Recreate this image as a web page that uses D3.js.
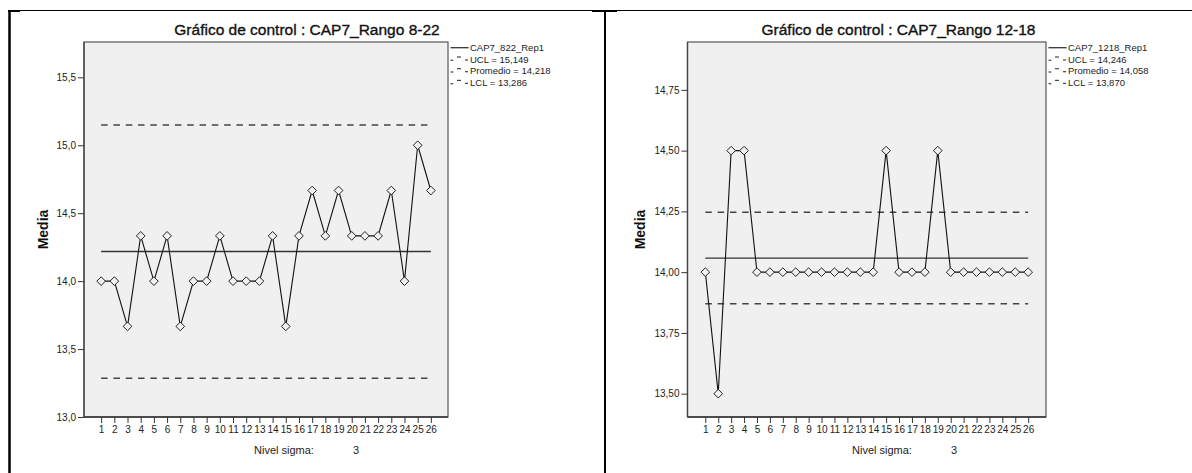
<!DOCTYPE html>
<html>
<head>
<meta charset="utf-8">
<script src="https://cdn.jsdelivr.net/npm/d3@7"></script>
<style>
  html, body { margin: 0; padding: 0; background: #fff; }
  svg { display: block; font-family: "Liberation Sans", Arial, sans-serif; }
</style>
</head>
<body>
<svg id="page" width="1192" height="473"></svg>
<script>
// Subgroup numbers shared by both control charts
const categories = ["1","2","3","4","5","6","7","8","9","10","11","12","13",
  "14","15","16","17","18","19","20","21","22","23","24","25","26"];

// Subgroup means, CAP7 range 8-22
const meansRango822 = [14.000, 14.000, 13.667, 14.333, 14.000, 14.333, 13.667, 14.000,
  14.000, 14.333, 14.000, 14.000, 14.000, 14.333, 13.667, 14.333, 14.667, 14.333,
  14.667, 14.333, 14.333, 14.333, 14.667, 14.000, 15.000, 14.667];
// Control limits: UCL, mean, LCL
const limitsRango822 = [15.149, 14.218, 13.286];
const ticksRango822 = [13.0, 13.5, 14.0, 14.5, 15.0, 15.5];
const legendRango822 = ["CAP7_822_Rep1", "UCL = 15,149", "Promedio = 14,218", "LCL = 13,286"];

// Subgroup means, CAP7 range 12-18
const meansRango1218 = [14.0, 13.5, 14.5, 14.5, 14.0, 14.0, 14.0, 14.0, 14.0, 14.0,
  14.0, 14.0, 14.0, 14.0, 14.5, 14.0, 14.0, 14.0, 14.5, 14.0, 14.0, 14.0, 14.0,
  14.0, 14.0, 14.0];
const limitsRango1218 = [14.246, 14.058, 13.870];
const ticksRango1218 = [13.50, 13.75, 14.00, 14.25, 14.50, 14.75];
const legendRango1218 = ["CAP7_1218_Rep1", "UCL = 14,246", "Promedio = 14,058", "LCL = 13,870"];

const titles = ["Gráfico de control : CAP7_Rango 8-22", "Gráfico de control : CAP7_Rango 12-18"];
const sigmaLabel = "Nivel sigma:";
const sigmaLevel = "3";
const yTitle = "Media";

// Spanish number formatting (decimal comma)
const esLocale = d3.formatLocale({ decimal: ",", thousands: ".", grouping: [3], currency: ["", " €"] });

const svg = d3.select("#page");

// Document table borders around the two charts
const frame = svg.append("g").attr("stroke", "#000");
frame.append("line").attr("x1", 8).attr("x2", 1192).attr("y1", 10.5).attr("y2", 10.5).attr("stroke-width", 1);
frame.append("line").attr("x1", 8).attr("x2", 20).attr("y1", 11).attr("y2", 11).attr("stroke-width", 2);
frame.append("line").attr("x1", 592).attr("x2", 617).attr("y1", 11).attr("y2", 11).attr("stroke-width", 2);
frame.append("line").attr("x1", 9.5).attr("x2", 9.5).attr("y1", 10).attr("y2", 473).attr("stroke-width", 2.5);
frame.append("line").attr("x1", 605).attr("x2", 605).attr("y1", 10).attr("y2", 473).attr("stroke-width", 2);

function drawChart(opts) {
  const { plot, panel, yDomain, padding, means, limits, ticks, tickFmt, legend, title, sigmaX, yTitleX } = opts;
  const g = svg.append("g");

  const x = d3.scalePoint().domain(categories).range([plot.left, plot.right]).padding(padding);
  const y = d3.scaleLinear().domain(yDomain).range([plot.bottom, plot.top]);

  // Title, centred over the chart panel
  g.append("text")
    .attr("x", (panel[0] + panel[1]) / 2).attr("y", 35)
    .attr("text-anchor", "middle")
    .attr("font-size", 15.5).attr("fill", "#111")
    .attr("stroke", "#111").attr("stroke-width", 0.35)
    .text(title);

  // Plot background
  g.append("rect")
    .attr("x", plot.left).attr("y", plot.top)
    .attr("width", plot.right - plot.left).attr("height", plot.bottom - plot.top)
    .attr("fill", "#f0f0f0").attr("stroke", "#555").attr("stroke-width", 1.2);

  // Y axis
  const yAxis = g.append("g")
    .attr("transform", `translate(${plot.left},0)`)
    .call(d3.axisLeft(y).tickValues(ticks).tickSize(6).tickPadding(2).tickFormat(esLocale.format(tickFmt)));
  yAxis.select(".domain").remove();
  yAxis.selectAll(".tick line").attr("stroke", "#333");
  yAxis.selectAll(".tick text").attr("font-size", 10).attr("fill", "#222")
    .attr("font-family", "'Liberation Sans', Arial, sans-serif");

  // X axis
  const xAxis = g.append("g")
    .attr("transform", `translate(0,${plot.bottom})`)
    .call(d3.axisBottom(x).tickSize(6).tickPadding(3));
  xAxis.select(".domain").remove();
  xAxis.selectAll(".tick line").attr("stroke", "#333");
  xAxis.selectAll(".tick text").attr("font-size", 10).attr("fill", "#222")
    .attr("font-family", "'Liberation Sans', Arial, sans-serif");
  g.append("line")
    .attr("x1", plot.left).attr("x2", plot.right)
    .attr("y1", plot.bottom).attr("y2", plot.bottom)
    .attr("stroke", "#333").attr("stroke-width", 1.5);
  g.append("line")
    .attr("x1", plot.left).attr("x2", plot.left)
    .attr("y1", plot.top).attr("y2", plot.bottom)
    .attr("stroke", "#444").attr("stroke-width", 1.3);

  // Y axis title
  g.append("text")
    .attr("transform", `translate(${yTitleX},${(plot.top + plot.bottom) / 2}) rotate(-90)`)
    .attr("text-anchor", "middle").attr("dy", "0.35em")
    .attr("font-size", 14).attr("font-weight", "bold").attr("fill", "#111")
    .text(yTitle);

  // Sigma level note under the axis
  g.append("text").attr("x", sigmaX).attr("y", 454)
    .attr("font-size", 11).attr("fill", "#222").text(sigmaLabel);
  g.append("text").attr("x", sigmaX + 102).attr("y", 454).attr("text-anchor", "middle")
    .attr("font-size", 11).attr("fill", "#222").text(sigmaLevel);

  // Control lines from the first to the last subgroup
  const x0 = x(categories[0]), x1 = x(categories[categories.length - 1]);
  limits.forEach((v, i) => {
    g.append("line")
      .attr("x1", x0).attr("x2", x1).attr("y1", y(v)).attr("y2", y(v))
      .attr("stroke", i === 1 ? "#333" : "#444")
      .attr("stroke-width", i === 1 ? 1.3 : 1.5)
      .attr("stroke-dasharray", i === 1 ? null : "6.5,5.8");
  });

  // Series line
  const line = d3.line().x((d, i) => x(categories[i])).y(d => y(d));
  g.append("path").datum(means)
    .attr("d", line).attr("fill", "none")
    .attr("stroke", "#111").attr("stroke-width", 1.1);

  // Diamond markers
  const diamond = d3.symbol().type(d3.symbolDiamond2).size(48);
  g.selectAll("path.pt").data(means).join("path")
    .attr("class", "pt")
    .attr("transform", (d, i) => `translate(${x(categories[i])},${y(d)})`)
    .attr("d", diamond)
    .attr("fill", "#f0f0f0").attr("stroke", "#222").attr("stroke-width", 1);

  // Legend
  const lx = plot.right + 2.5;
  const rows = [47.7, 59.3, 71, 82.7];
  const lg = g.append("g");
  legend.forEach((label, i) => {
    const ry = rows[i];
    if (i === 0) {
      lg.append("line").attr("x1", lx).attr("x2", lx + 18).attr("y1", ry).attr("y2", ry)
        .attr("stroke", "#333").attr("stroke-width", 1.3);
    } else {
      [[0, 2.8, 1], [6.5, 10.5, -2.3], [14.5, 17.5, 0.7]].forEach(([a, b, dy]) => {
        lg.append("line").attr("x1", lx + a).attr("x2", lx + b)
          .attr("y1", ry + dy).attr("y2", ry + dy)
          .attr("stroke", "#444").attr("stroke-width", 1.2);
      });
    }
    lg.append("text").attr("x", lx + 19.5).attr("y", ry).attr("dy", "0.35em")
      .attr("font-size", 9.5).attr("fill", "#222").text(label);
  });
}

drawChart({
  plot: { left: 84, right: 448, top: 42, bottom: 417 },
  panel: [9, 605],
  yDomain: [13.0, 15.76],
  padding: 1.3,
  means: meansRango822,
  limits: limitsRango822,
  ticks: ticksRango822,
  tickFmt: ".1f",
  legend: legendRango822,
  title: titles[0],
  sigmaX: 254,
  yTitleX: 43
});

drawChart({
  plot: { left: 687.5, right: 1046, top: 42, bottom: 417 },
  panel: [605, 1192],
  yDomain: [13.404, 14.947],
  padding: 1.38,
  means: meansRango1218,
  limits: limitsRango1218,
  ticks: ticksRango1218,
  tickFmt: ".2f",
  legend: legendRango1218,
  title: titles[1],
  sigmaX: 852,
  yTitleX: 640
});
</script>
</body>
</html>
